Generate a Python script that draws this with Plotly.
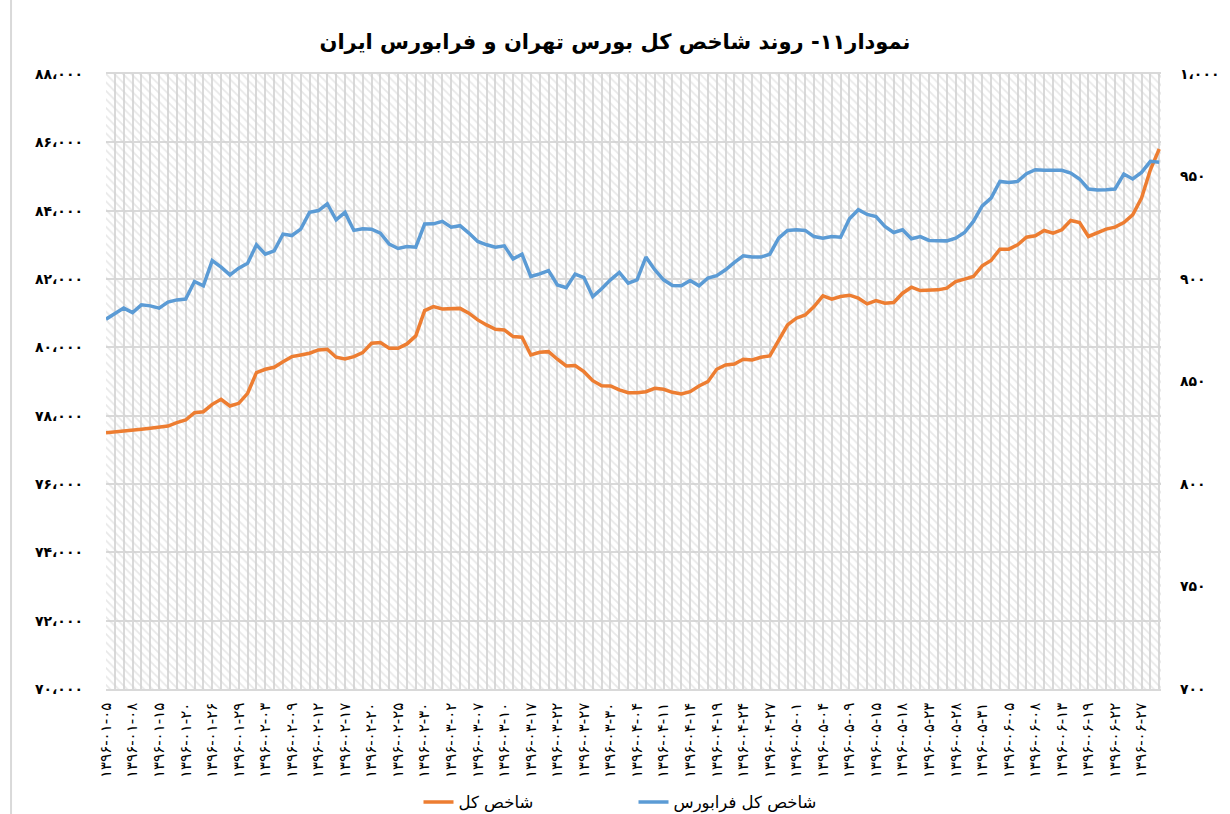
import plotly.graph_objects as go

FA = str.maketrans("0123456789,", "۰۱۲۳۴۵۶۷۸۹،")


def fa(s):
    return str(s).translate(FA)


# شاخص کل (left axis)
tedpix = [
    77500, 77521, 77541, 77559, 77600, 77629, 77658, 77697, 77794, 77873,
    78087, 78116, 78332, 78479, 78283, 78362, 78655, 79259, 79358, 79417,
    79581, 79728, 79777, 79827, 79924, 79944, 79710, 79660, 79728, 79845,
    80120, 80138, 79974, 79974, 80100, 80334, 81076, 81193, 81125, 81125,
    81140, 80999, 80803, 80656, 80530, 80510, 80314, 80296, 79777, 79856,
    79874, 79651, 79455, 79465, 79288, 79024, 78878, 78868, 78752, 78673,
    78673, 78702, 78802, 78772, 78683, 78634, 78702, 78868, 78995, 79358,
    79484, 79514, 79651, 79631, 79710, 79748, 80196, 80656, 80853, 80949,
    81194, 81506, 81408, 81487, 81526, 81438, 81272, 81369, 81291, 81311,
    81584, 81760, 81662, 81662, 81682, 81731, 81926, 81995, 82073, 82385,
    82541, 82874, 82874, 83001, 83225, 83264, 83421, 83343, 83440, 83714,
    83655, 83245, 83362, 83460, 83518, 83655, 83880, 84368, 85198, 85804,
]

# شاخص کل فرابورس (right axis)
ifx = [
    880.4, 883.0, 885.8, 883.6, 887.4, 886.9, 885.8, 888.7, 889.8, 890.2,
    898.8, 896.7, 909.0, 905.8, 902.0, 905.3, 907.7, 916.7, 912.1, 913.7,
    921.9, 921.2, 924.3, 932.5, 933.4, 936.7, 928.9, 932.5, 923.7, 924.5,
    924.3, 922.4, 917.0, 914.9, 915.8, 915.5, 926.8, 926.9, 928.1, 925.3,
    926.0, 922.4, 918.3, 916.7, 915.5, 916.2, 909.8, 912.1, 901.2, 902.5,
    904.1, 897.1, 895.8, 902.4, 900.7, 891.4, 895.2, 899.6, 903.2, 898.0,
    899.6, 910.7, 904.5, 899.6, 896.8, 896.7, 899.3, 896.7, 900.4, 901.6,
    904.5, 908.1, 911.3, 910.7, 910.7, 912.1, 919.9, 923.7, 924.0, 923.7,
    920.7, 919.9, 920.7, 920.4, 929.4, 933.8, 931.5, 930.5, 925.6, 922.7,
    924.0, 919.6, 920.7, 918.8, 918.5, 918.6, 919.9, 922.7, 928.1, 935.7,
    939.5, 947.6, 947.1, 947.6, 951.4, 953.3, 953.1, 953.0, 953.0, 951.7,
    948.8, 943.9, 943.4, 943.5, 943.9, 951.2, 948.8, 952.0, 957.4, 957.0,
]

tick_dates = [
    "1396-01-05", "1396-01-08", "1396-01-15", "1396-01-20", "1396-01-26",
    "1396-01-29", "1396-02-03", "1396-02-09", "1396-02-12", "1396-02-17",
    "1396-02-20", "1396-02-25", "1396-02-30", "1396-03-02", "1396-03-07",
    "1396-03-10", "1396-03-17", "1396-03-22", "1396-03-27", "1396-03-30",
    "1396-04-04", "1396-04-11", "1396-04-14", "1396-04-19", "1396-04-24",
    "1396-04-27", "1396-05-01", "1396-05-04", "1396-05-09", "1396-05-15",
    "1396-05-18", "1396-05-23", "1396-05-28", "1396-05-31", "1396-06-05",
    "1396-06-08", "1396-06-13", "1396-06-19", "1396-06-22", "1396-06-27",
]

left_ticks = list(range(70000, 88001, 2000))
right_ticks = list(range(700, 1001, 50))

name_main = "شاخص کل"
name_ifb = "شاخص کل فرابورس"
title = "نمودار۱۱- روند شاخص کل بورس تهران و فرابورس ایران"

N = len(tedpix)
x = list(range(N))
tick_pos = list(range(0, N, 3))[: len(tick_dates)]
XMAX = N - 1 + 0.2

FONT = "DejaVu Sans"
GRID = "#d9d9d9"

fig = go.Figure()

# hatched plot-area background
fig.add_trace(go.Scatter(
    x=[0, XMAX, XMAX, 0, 0], y=[70000, 70000, 88000, 88000, 70000],
    mode="lines", line=dict(width=0), fill="toself",
    fillcolor="rgba(0,0,0,0)",
    fillpattern=dict(shape="\\", fgcolor="#d2d2d2", bgcolor="rgba(0,0,0,0)",
                     size=6, solidity=0.3),
    hoverinfo="skip", showlegend=False,
))

fig.add_trace(go.Scatter(
    x=x, y=tedpix, name=name_main, mode="lines",
    line=dict(color="#ED7D31", width=3.5),
))
fig.add_trace(go.Scatter(
    x=x, y=ifx, name=name_ifb, mode="lines", yaxis="y2",
    line=dict(color="#5B9BD5", width=3.5),
))

fig.update_layout(
    width=1230, height=814,
    margin=dict(l=106, r=69, t=74, b=125, autoexpand=False),
    paper_bgcolor="white", plot_bgcolor="white",
    font=dict(family=FONT, color="black"),
    title=dict(text="<b>" + title + "</b>", x=0.5, xanchor="center",
               y=1 - 42 / 814, yanchor="middle", yref="container",
               font=dict(size=21, family=FONT, color="black")),
    xaxis=dict(
        range=[0, XMAX], tickmode="array", tickvals=tick_pos,
        ticktext=[fa(d) for d in tick_dates], tickangle=-90,
        tickfont=dict(size=15, family=FONT, color="black"),
        showgrid=True, gridcolor=GRID, gridwidth=1.5,
        minor=dict(tickmode="linear", tick0=0, dtick=1, showgrid=True,
                   gridcolor=GRID, gridwidth=1.5),
        showline=True, linecolor=GRID, linewidth=1.5, mirror=True,
        zeroline=False, ticks="", ticklabelstandoff=6, automargin=False,
    ),
    yaxis=dict(
        range=[70000, 88000], tickmode="array", tickvals=left_ticks,
        ticktext=["<b>" + fa(f"{v:,}") + "</b>" for v in left_ticks],
        tickfont=dict(size=14, family=FONT, color="black"),
        showgrid=True, gridcolor=GRID, gridwidth=2, zeroline=False,
        ticks="", ticklabelstandoff=22, automargin=False,
    ),
    yaxis2=dict(
        range=[700, 1000], tickmode="array", tickvals=right_ticks,
        ticktext=["<b>" + fa(f"{v:,}") + "</b>" for v in right_ticks],
        tickfont=dict(size=14, family=FONT, color="black"),
        overlaying="y", side="right", showgrid=False, zeroline=False,
        ticks="", ticklabelstandoff=18, automargin=False,
    ),
    legend=dict(orientation="h", x=0.5, xanchor="center", y=-0.184,
                yanchor="middle", font=dict(size=16.5, family=FONT),
                entrywidth=170, bgcolor="rgba(0,0,0,0)"),
    showlegend=True,
)

fig.add_shape(type="line", xref="paper", yref="paper",
              x0=-0.09, x1=-0.09, y0=-0.21, y1=1.13,
              line=dict(color=GRID, width=2))

fig.write_html(
    "out.html",
    config={"displayModeBar": False},
    post_script="document.body.style.margin='0';"
                "document.body.style.padding='0';"
                "document.body.style.overflow='hidden';",
)
